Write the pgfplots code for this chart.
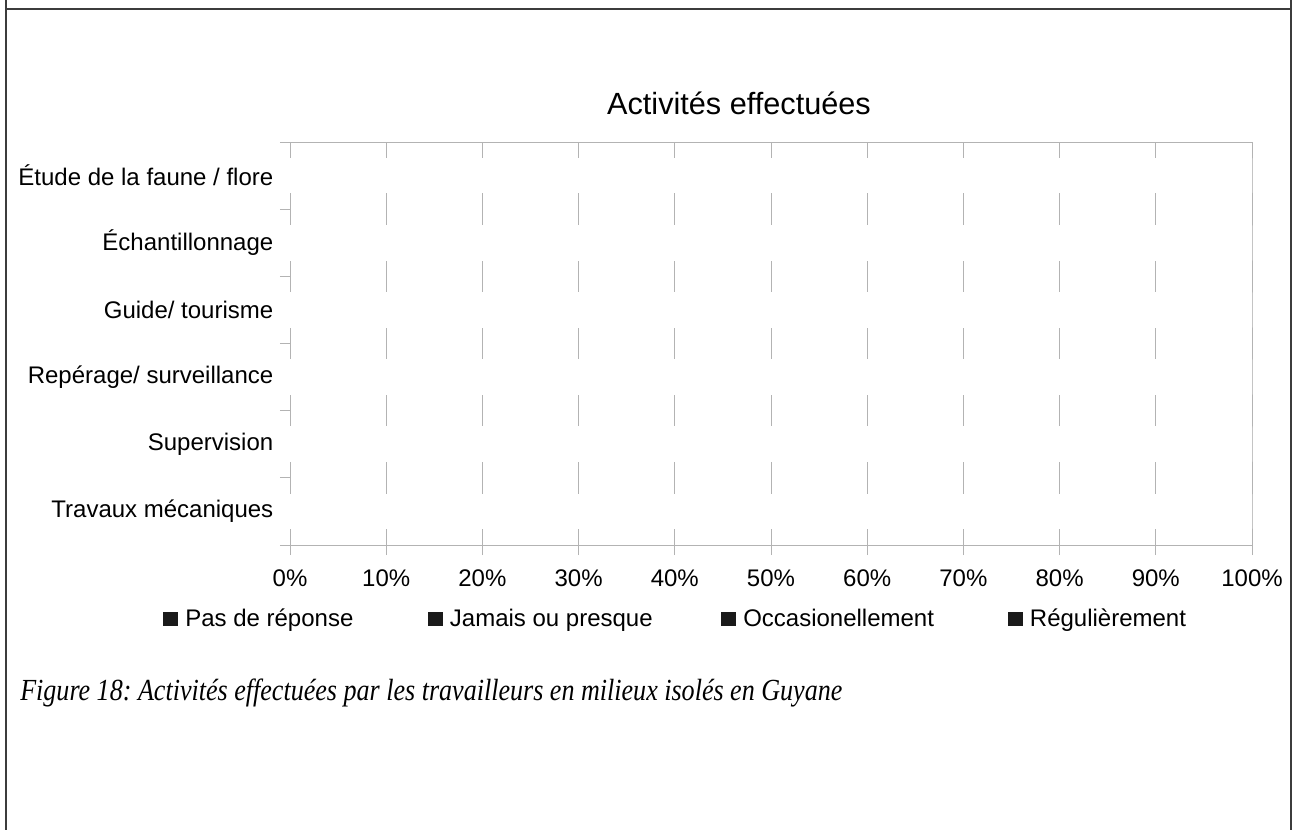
\documentclass[border=0pt]{standalone}
\usepackage{fontspec}
\setmainfont{Liberation Sans}
\newfontfamily\capfont{Liberation Serif}
\usepackage{pgfplots}
\pgfplotsset{compat=1.18}
\usepackage{graphicx}
\frenchspacing
\definecolor{gridgray}{HTML}{B3B3B3}
\definecolor{framegray}{HTML}{3C3C3C}
\definecolor{legblack}{HTML}{1A1A1A}
\pgfplotsset{legsq/.style={legend image code/.code={\path[draw=none, fill=legblack] (0pt,-5.5pt) rectangle (11pt,5.5pt); \path[draw=none, fill=none] (0pt,0pt) -- (14.5pt,0pt);}}}
\begin{document}
\begin{tikzpicture}
\path[use as bounding box] (0pt,0pt) rectangle (970.5pt,-622.5pt);
\draw[framegray, line width=1.1pt] (4.5pt,0pt) -- (4.5pt,-622.5pt);
\draw[framegray, line width=1.1pt] (968.25pt,0pt) -- (968.25pt,-622.5pt);
\draw[framegray, line width=1.1pt] (4.5pt,-6.75pt) -- (968.25pt,-6.75pt);
\begin{axis}[
  at={(217.5pt,-408.75pt)}, anchor=south west,
  scale only axis, width=721.5pt, height=302.25pt,
  xbar stacked, bar width=25.5pt,
  xmin=0, xmax=100, ymin=-0.5, ymax=5.5,
  xtick={0,10,20,30,40,50,60,70,80,90,100},
  xticklabel={\pgfmathprintnumber{\tick}\%},
  scaled x ticks=false,
  /pgf/number format/assume math mode=true,
  ytick={-0.5,0.5,1.5,2.5,3.5,4.5,5.5}, yticklabels={},
  extra y ticks={0,1,2,3,4,5},
  extra y tick labels={Travaux mécaniques, Supervision, Repérage/ surveillance, Guide/ tourisme, Échantillonnage, Étude de la faune / flore},
  extra y tick style={major tick length=0pt, yticklabel style={xshift=-9pt}},
  xtick pos=left, ytick pos=left,
  tick align=outside, major tick length=7.5pt,
  tick style={gridgray, line width=0.75pt},
  separate axis lines,
  x axis line style={gridgray, line width=0.75pt},
  y axis line style={draw=none},
  xmajorgrids, ymajorgrids=false,
  major grid style={gridgray, line width=0.75pt},
  tick label style={font=\fontsize{18}{21.6}\selectfont, text=black},
  xticklabel style={yshift=-7.5pt},
  title={Activités effectuées},
  title style={at={(0.4667,1)}, anchor=base, yshift=15pt, font=\fontsize{23}{27.6}\selectfont},
  legend columns=4,
  legend style={at={(-0.132,-0.1836)}, anchor=west, draw=none, fill=none, inner sep=0pt,
    font=\fontsize{18}{21.6}\selectfont, legend cell align=left},
]
\addplot[fill=white, draw=white, line width=1.2pt, legsq] coordinates {(5,0) (4,1) (6,2) (5,3) (7,4) (6,5)};
\addplot[fill=white, draw=white, line width=1.2pt, legsq] coordinates {(60,0) (55,1) (35,2) (70,3) (62,4) (40,5)};
\addplot[fill=white, draw=white, line width=1.2pt, legsq] coordinates {(25,0) (26,1) (34,2) (18,3) (21,4) (34,5)};
\addplot[fill=white, draw=white, line width=1.2pt, legsq] coordinates {(10,0) (15,1) (25,2) (7,3) (10,4) (20,5)};
\legend{\makebox[180pt][l]{Pas de réponse}, \makebox[201.5pt][l]{Jamais ou presque}, \makebox[196.5pt][l]{Occasionellement}, Régulièrement}
\end{axis}
\node[anchor=base west, inner sep=0pt] at (15pt,-525pt) {\scalebox{0.85}[1]{\capfont\itshape\fontsize{23}{27.6}\selectfont Figure 18: Activités effectuées par les travailleurs en milieux isolés en Guyane}};
\end{tikzpicture}
\end{document}
